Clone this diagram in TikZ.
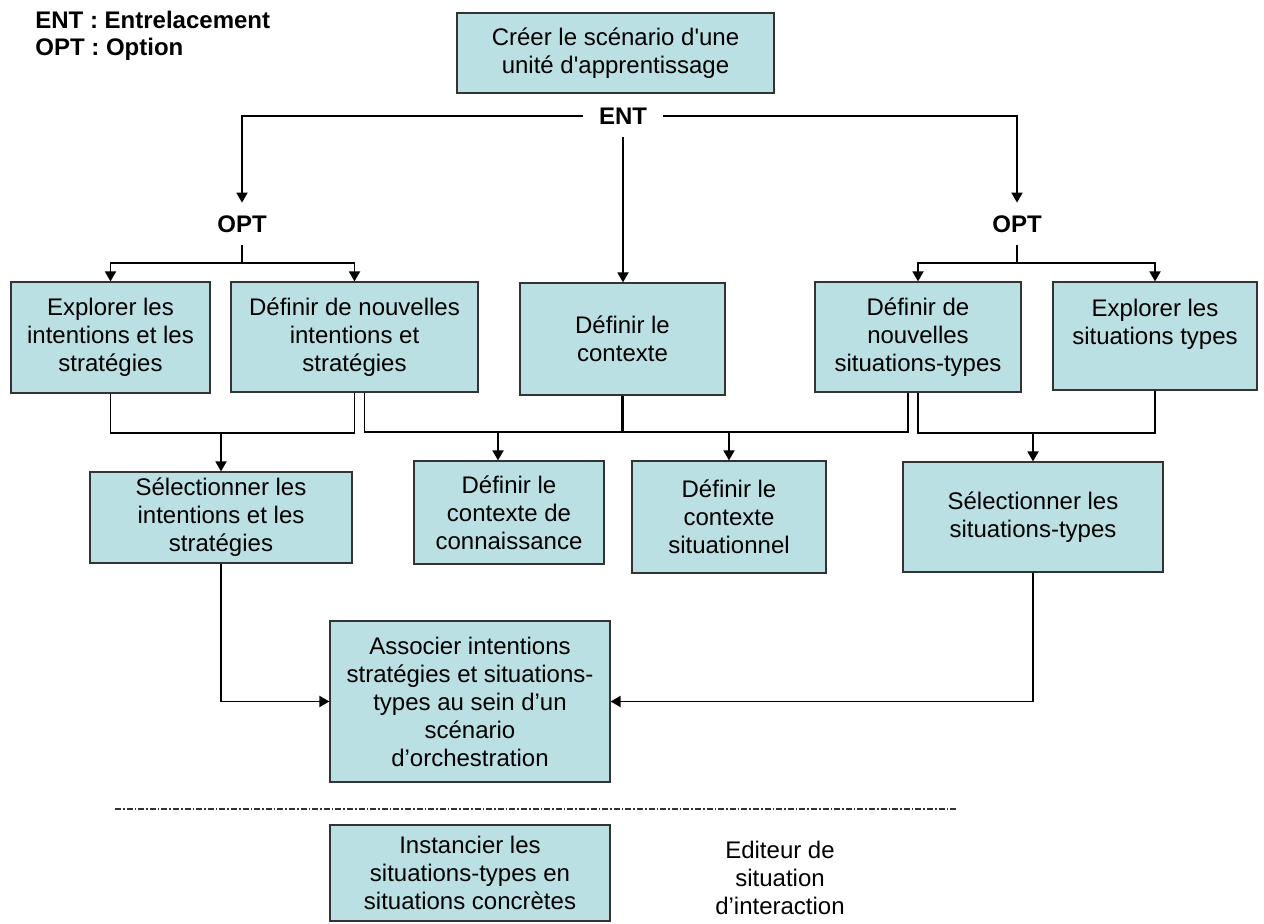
\documentclass[tikz,border=0pt]{standalone}
\usepackage{fontspec}
\setmainfont{Liberation Sans}
\usetikzlibrary{arrows.meta}
\definecolor{boxfill}{HTML}{BBE0E3}

\begin{document}
\begin{tikzpicture}[x=0.5pt, y=-0.5pt, >={Triangle[length=5pt,width=5.5pt]},
	every node/.style={font=\fontsize{12}{14}\selectfont},
	tache/.style={draw=black!80, fill=boxfill, line width=0.6pt, align=center, inner sep=0pt},
	lien/.style={line width=0.9pt},
	op/.style={font=\fontsize{12}{14}\selectfont\bfseries, inner xsep=8pt, inner ysep=0pt, minimum height=21pt}]
	\useasboundingbox (0,0) rectangle (1264,924);
	\node[anchor=north west, align=left, inner sep=0pt, font=\fontsize{12}{13.5}\selectfont\bfseries] (legende) at (35,11) {ENT : Entrelacement\\OPT : Option};
	\node[tache, minimum width=158.5pt, minimum height=40pt] (creer) at (615.5,53) {Créer le scénario d\textquotesingle une\\unité d\textquotesingle apprentissage};
	\node[op] (ent) at (623,116) {ENT};
	\node[op] (optL) at (242,224) {OPT};
	\node[op] (optR) at (1017,224) {OPT};
	\node[tache, minimum width=99.5pt, minimum height=55.5pt] (B1) at (110.5,337.5) {Explorer les\\intentions et les\\stratégies};
	\node[tache, minimum width=123.5pt, minimum height=55pt] (B2) at (354.5,337) {Définir de nouvelles\\intentions et\\stratégies};
	\node[tache, minimum width=102.5pt, minimum height=56pt] (B3) at (622.5,339) {Définir le\\contexte};
	\node[tache, minimum width=103pt, minimum height=55pt] (B4) at (918,337) {Définir de\\nouvelles\\situations-types};
	\node[tache, minimum width=102pt, minimum height=54pt] (B5) at (1155,336) {Explorer les\\situations types\\\mbox{}};
	\node[tache, minimum width=131pt, minimum height=45.5pt] (S1) at (221,517.5) {Sélectionner les\\intentions et les\\stratégies};
	\node[tache, minimum width=95pt, minimum height=51.5pt] (C1) at (509,512.5) {Définir le\\contexte de\\connaissance};
	\node[tache, minimum width=97pt, minimum height=56pt] (C2) at (729,517) {Définir le\\contexte\\situationnel};
	\node[tache, minimum width=130pt, minimum height=55pt] (S2) at (1033,517) {Sélectionner les\\situations-types};
	\node[tache, minimum width=140pt, minimum height=80.5pt] (A) at (470,701.5) {Associer intentions\\stratégies et situations-\\types au sein d’un\\scénario\\d’orchestration};
	\node[tache, minimum width=140pt, minimum height=48pt] (I) at (470,873) {Instancier les\\situations-types en\\situations concrètes};
	\node[align=center] (editeur) at (780,878) {Editeur de\\situation\\d’interaction};
	% entrelacement
	\draw[lien, ->] (ent.west) -| (optL.north);
	\draw[lien, ->] (ent.east) -| (optR.north);
	\draw[lien, ->] (ent.south) -- (ent.south |- B3.north);
	% options
	\coordinate (jL) at (242,263);
	\coordinate (jR) at (1017,263);
	\draw[lien] (optL.south) -- (jL);
	\draw[lien, ->] (jL) -| (B1.north);
	\draw[lien, ->] (jL) -| (B2.north);
	\draw[lien] (optR.south) -- (jR);
	\draw[lien, ->] (jR) -| (B4.north);
	\draw[lien, ->] (jR) -| (B5.north);
	% selection
	\coordinate (jS1) at (221,433);
	\coordinate (jC) at (623,432);
	\coordinate (jS2) at (1033,433);
	\coordinate (c1in) at ([xshift=-5.5pt]C1.north);
	\draw[lien] (B1.south) |- (jS1) -| (B2.south);
	\draw[lien, ->] (jS1) -- (S1.north);
	\draw[lien] ([xshift=5pt]B2.south) |- (jC) -| ([xshift=-5pt]B4.south);
	\draw[line width=1.4pt] (B3.south) -- (B3.south |- jC);
	\draw[lien, ->] (c1in |- jC) -- (c1in);
	\draw[lien, ->] (C2.north |- jC) -- (C2.north);
	\draw[lien] (B4.south) |- (jS2) -| (B5.south);
	\draw[lien, ->] (jS2) -- (S2.north);
	\draw[lien, ->] (S1.south) |- (A.west);
	\draw[lien, ->] (S2.south) |- (A.east);
	\draw[black!80, line width=0.6pt, dash pattern=on 3pt off 1pt on 0.8pt off 1pt] (115,809) -- (958,809);
\end{tikzpicture}
\end{document}
